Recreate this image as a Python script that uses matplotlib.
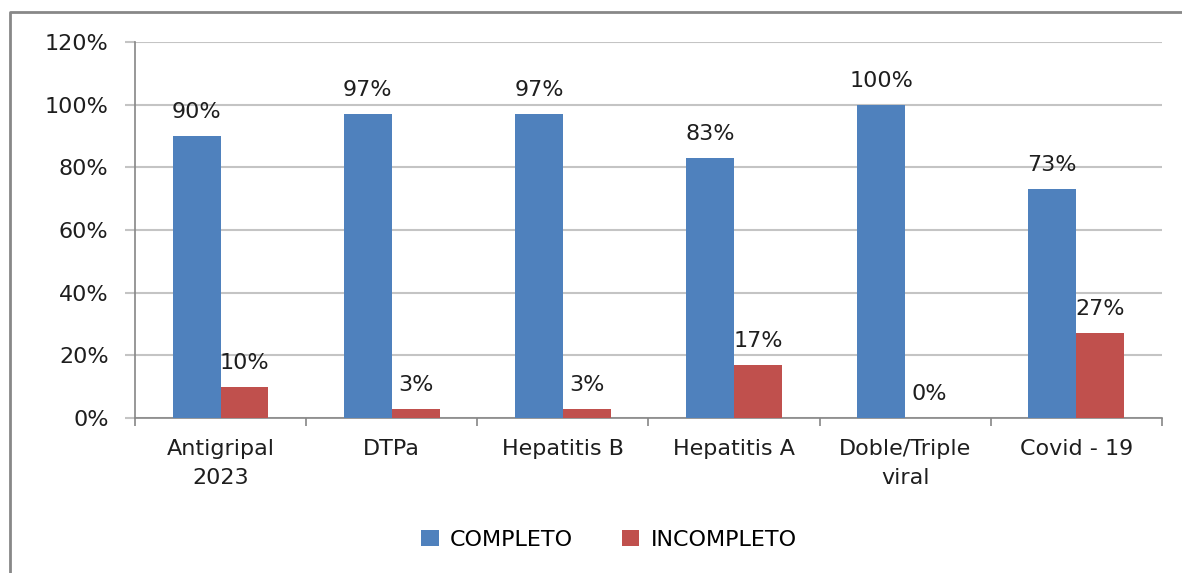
import numpy as np
import matplotlib
matplotlib.use("Agg")
import matplotlib.pyplot as plt
from matplotlib.lines import Line2D
from matplotlib.ticker import PercentFormatter

plt.rcParams["font.family"] = ["DejaVu Sans"]

categories = ["Antigripal\n2023", "DTPa", "Hepatitis B", "Hepatitis A", "Doble/Triple\nviral", "Covid - 19"]
completo = [90, 97, 97, 83, 100, 73]
incompleto = [10, 3, 3, 17, 0, 27]
series_names = ["COMPLETO", "INCOMPLETO"]

c_blue = "#4F81BD"
c_red = "#C0504D"
c_grid = "#C4C4C4"
c_axis = "#868686"
c_text = "#1E1E1E"
fs = 16

fig = plt.figure(figsize=(11.82, 5.73), dpi=100)
ax = fig.add_axes([0.1142, 0.2705, 0.8688, 0.6562])

x = np.arange(len(categories))
w = 0.28
b1 = ax.bar(x - w / 2, completo, w, color=c_blue, label=series_names[0], zorder=3)
b2 = ax.bar(x + w / 2, incompleto, w, color=c_red, label=series_names[1], zorder=3)

for bars, vals in [(b1, completo), (b2, incompleto)]:
    for rect, v in zip(bars, vals):
        ax.annotate(f"{v}%", xy=(rect.get_x() + rect.get_width() / 2, v),
                    xytext=(0, 13), textcoords="offset points",
                    ha="center", va="baseline", fontsize=fs, color=c_text)

ax.set_xlim(-0.5, len(categories) - 0.5)
ax.set_ylim(0, 120)
ax.set_yticks(np.arange(0, 121, 20))
ax.yaxis.set_major_formatter(PercentFormatter(decimals=0))
ax.grid(axis="y", color=c_grid, linewidth=1.5, zorder=0)

ax.set_xticks(x)
ax.set_xticklabels(categories, fontsize=fs, linespacing=1.55, color=c_text)
ax.set_xticks(np.arange(-0.5, len(categories), 1), minor=True)
ax.tick_params(axis="x", which="major", length=0, pad=15)
ax.tick_params(axis="x", which="minor", length=6, color=c_axis, width=1.2)
ax.tick_params(axis="y", length=7, color=c_grid, width=1.5, labelsize=fs,
               labelcolor=c_text, pad=12)

for s in ["top", "right"]:
    ax.spines[s].set_visible(False)
for s in ["left", "bottom"]:
    ax.spines[s].set_color(c_axis)
    ax.spines[s].set_linewidth(1.2)

ax.legend(loc="center", bbox_to_anchor=(0.515, 0.058), bbox_transform=fig.transFigure,
          ncol=2, frameon=False, fontsize=fs, handlelength=0.8, handleheight=0.7,
          handletextpad=0.5, columnspacing=2.2)

# outer chart border
W, H = 1182, 573
fig.add_artist(Line2D([10 / W, 10 / W, 1.0], [0.0, 1 - 12 / H, 1 - 12 / H],
                      transform=fig.transFigure, color="#888888", linewidth=2))

fig.savefig("out.png", dpi=100)
